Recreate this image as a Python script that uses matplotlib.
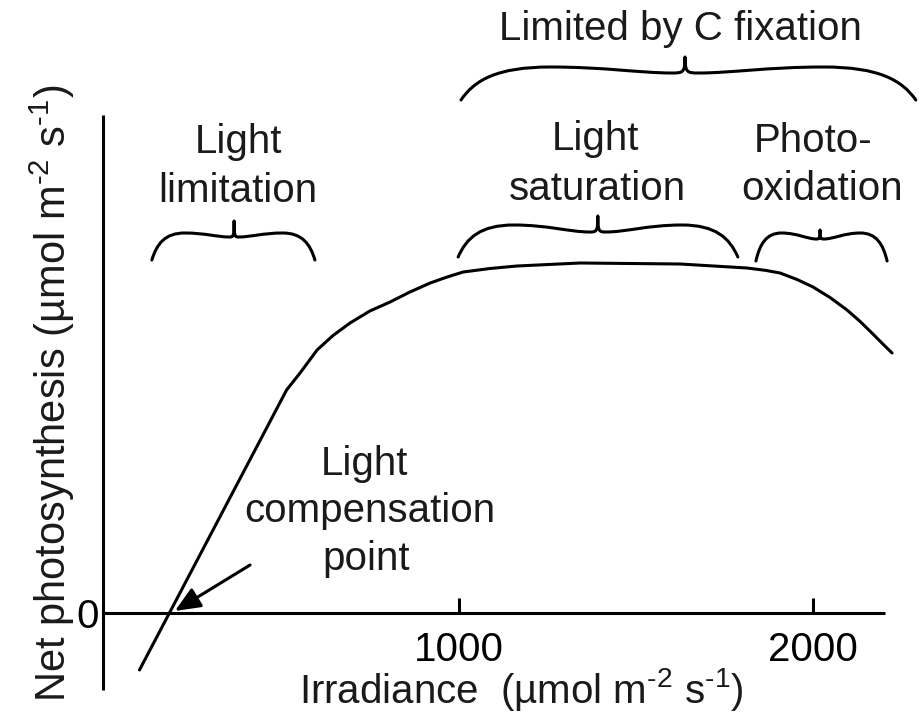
import matplotlib
matplotlib.use("Agg")
import matplotlib.pyplot as plt
from matplotlib.path import Path
from matplotlib.patches import PathPatch

plt.rcParams['font.family'] = ['Liberation Sans', 'DejaVu Sans']
plt.rcParams['mathtext.fontset'] = 'custom'
plt.rcParams['mathtext.rm'] = 'Liberation Sans'
plt.rcParams['mathtext.it'] = 'Liberation Sans'

# ---- data ----
irradiance = [100, 515, 553, 576, 601, 646, 694, 750, 807, 863, 920, 968, 1013,
              1089, 1165, 1343, 1625, 1814, 1865, 1907, 1955, 2000, 2048, 2096,
              2133, 2169, 2197, 2223]
net_photosynthesis = [-5.7, 22.3, 24.0, 25.1, 26.3, 27.75, 29.0, 30.2, 31.1, 32.1,
                      33.0, 33.6, 34.1, 34.45, 34.7, 35.0, 34.9, 34.5, 34.27, 34.0,
                      33.35, 32.6, 31.55, 30.3, 29.15, 27.9, 26.9, 26.0]
xtick_values = [1000, 2000]
xtick_labels = ['1000', '2000']
ytick_values = [0]
ytick_labels = ['0']

# braces: (x_left, x_right, x_mid, y_end, y_arm, y_mid, y_tip)
braces = [
    (135, 595, 367, 35.3, 38.0, 37.6, 39.2),
    (1007, 2290, 1639, 51.3, 54.6, 54.0, 55.6),
    (999, 1788, 1393, 35.6, 38.8, 38.1, 39.7),
    (1839, 2209, 2020, 35.2, 38.0, 37.4, 38.3),
]

FS = 29
LW = 2.2

fig = plt.figure(figsize=(9.19, 7.17), dpi=100)
ax = fig.add_axes([0, 0, 1, 1])
ax.set_xlim(-293.4, 2299.0)
ax.set_ylim(-10.4, 61.3)

ax.plot(irradiance, net_photosynthesis, color='black', lw=LW,
        solid_joinstyle='round', solid_capstyle='round', zorder=3)

# axes spines
for s in ['top', 'right']:
    ax.spines[s].set_visible(False)
ax.spines['left'].set_position(('data', -3))
ax.spines['bottom'].set_position(('data', 0))
ax.spines['left'].set_bounds(-7.7, 49.8)
ax.spines['bottom'].set_bounds(-3, 2203)
for s in ['left', 'bottom']:
    ax.spines[s].set_linewidth(LW)
    ax.spines[s].set_capstyle('butt')

ax.set_xticks(xtick_values)
ax.set_xticklabels(xtick_labels)
ax.set_yticks(ytick_values)
ax.set_yticklabels(ytick_labels)
ax.tick_params(axis='x', direction='in', length=11, width=LW, pad=13, labelsize=FS)
ax.tick_params(axis='y', direction='in', length=6, width=1.5, pad=3, labelsize=FS)


def brace(x0, x1, xm, yb, ya, ym, yt):
    wl = xm - x0
    wr = x1 - xm
    verts = [
        (x0, yb),
        (x0 + 0.06 * wl, yb + 0.6 * (ya - yb)), (x0 + 0.16 * wl, ya), (x0 + 0.4 * wl, ya),
        (x0 + 0.64 * wl, ya), (x0 + 0.8 * wl, ym), (x0 + 0.94 * wl, ym),
        (x0 + 0.99 * wl, ym), (xm, ym), (xm, yt),
        (xm, ym), (xm + 0.01 * wr, ym), (xm + 0.06 * wr, ym),
        (xm + 0.2 * wr, ym), (xm + 0.36 * wr, ya), (xm + 0.6 * wr, ya),
        (xm + 0.84 * wr, ya), (xm + 0.94 * wr, yb + 0.6 * (ya - yb)), (x1, yb),
    ]
    codes = [Path.MOVETO] + [Path.CURVE4] * 18
    ax.add_patch(PathPatch(Path(verts, codes), fill=False, lw=LW, edgecolor='black',
                           capstyle='round', joinstyle='round'))


for b in braces:
    brace(*b)

# texts
txt = dict(fontsize=FS, ha='center', va='baseline', color='#1a1a1a')
ax.text(1625, 57.3, 'Limited by C fixation', **txt)
ax.text(378, 46.0, 'Light', **txt)
ax.text(378, 41.1, 'limitation', **txt)
ax.text(1385, 46.3, 'Light', **txt)
ax.text(1393, 41.3, 'saturation', **txt)
ax.text(2000, 46.1, 'Photo-', **txt)
ax.text(2025, 41.3, 'oxidation', **txt)
ax.text(736, 13.8, 'Light', **txt)
ax.text(750, 9.1, 'compensation', **txt)
ax.text(739, 4.3, 'point', **txt)

unit = r'(µmol m$^{\text{-}2}$ s$^{\text{-}1}$)'
ax.text(1176, -9.0, 'Irradiance  ' + unit, **txt)
ylab = dict(txt)
ylab['fontsize'] = 30
ax.text(-107, 22.0, 'Net photosynthesis ' + unit, rotation=90,
        rotation_mode='anchor', **ylab)

ax.annotate('', xy=(200, 0.2), xytext=(412, 4.8),
            arrowprops=dict(arrowstyle='-|>,head_length=0.7,head_width=0.3', lw=LW,
                            color='black', mutation_scale=22,
                            shrinkA=0, shrinkB=0))

fig.savefig('out.png', dpi=100, facecolor='white')
